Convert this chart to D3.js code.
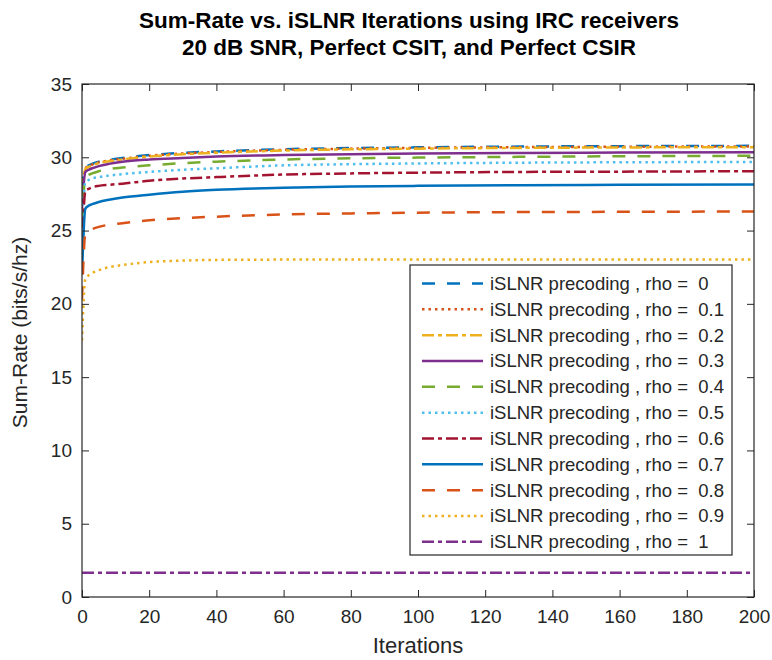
<!DOCTYPE html>
<html>
<head>
<meta charset="utf-8">
<script src="https://cdn.jsdelivr.net/npm/d3@7"></script>
<style>
  html, body { margin: 0; padding: 0; background: #fff; }
  svg { display: block; }
  text { font-family: "Liberation Sans", Arial, Helvetica, sans-serif; }
</style>
</head>
<body>
<svg id="chart" width="772" height="660"></svg>
<script>
// ---------------- DATA ----------------
const iterations = [0, 1, 2, 3, 5, 8, 12, 20, 30, 40, 60, 80, 100, 130, 160, 200];
const rhoLabels = ["0", "0.1", "0.2", "0.3", "0.4", "0.5", "0.6", "0.7", "0.8", "0.9", "1"];
const rho00 = [27.8, 29.30, 29.45, 29.55, 29.70, 29.82, 29.95, 30.15, 30.30, 30.40, 30.55, 30.63, 30.68, 30.73, 30.76, 30.78];
const rho01 = [27.5, 29.25, 29.40, 29.50, 29.65, 29.78, 29.90, 30.10, 30.26, 30.36, 30.51, 30.59, 30.64, 30.69, 30.72, 30.74];
const rho02 = [27.2, 29.20, 29.35, 29.45, 29.60, 29.73, 29.85, 30.05, 30.21, 30.31, 30.46, 30.54, 30.59, 30.64, 30.67, 30.69];
const rho03 = [26.5, 29.00, 29.15, 29.25, 29.40, 29.55, 29.70, 29.85, 29.95, 30.05, 30.15, 30.20, 30.25, 30.30, 30.32, 30.35];
const rho04 = [25.5, 28.60, 28.80, 28.90, 29.05, 29.20, 29.30, 29.45, 29.60, 29.70, 29.85, 29.93, 29.98, 30.03, 30.07, 30.10];
const rho05 = [24.5, 28.30, 28.45, 28.55, 28.65, 28.75, 28.85, 29.00, 29.15, 29.25, 29.45, 29.53, 29.58, 29.63, 29.66, 29.68];
const rho06 = [23.5, 27.70, 27.85, 27.95, 28.05, 28.12, 28.20, 28.40, 28.55, 28.65, 28.82, 28.90, 28.95, 29.00, 29.02, 29.05];
const rho07 = [22.0, 26.50, 26.70, 26.80, 26.95, 27.10, 27.25, 27.45, 27.65, 27.78, 27.92, 28.00, 28.05, 28.10, 28.12, 28.15];
const rho08 = [20.3, 24.80, 25.00, 25.10, 25.25, 25.40, 25.50, 25.70, 25.85, 25.95, 26.10, 26.17, 26.22, 26.26, 26.28, 26.30];
const rho09 = [17.5, 21.70, 21.95, 22.10, 22.30, 22.50, 22.65, 22.85, 22.95, 23.00, 23.02, 23.03, 23.03, 23.03, 23.03, 23.03];
const rho10 = [1.65, 1.65, 1.65, 1.65, 1.65, 1.65, 1.65, 1.65, 1.65, 1.65, 1.65, 1.65, 1.65, 1.65, 1.65, 1.65];
const seriesValues = [rho00, rho01, rho02, rho03, rho04, rho05, rho06, rho07, rho08, rho09, rho10];
const xTicks = [0, 20, 40, 60, 80, 100, 120, 140, 160, 180, 200];
const yTicks = [0, 5, 10, 15, 20, 25, 30, 35];
const titleLines = ["Sum-Rate vs. iSLNR Iterations using IRC receivers", "20 dB SNR, Perfect CSIT, and Perfect CSIR"];
const xLabel = "Iterations";
const yLabel = "Sum-Rate (bits/s/hz)";

// ---------------- STYLE ----------------
const colors = ["#0072BD", "#D95319", "#EDB120", "#7E2F8E", "#77AC30", "#4DBEEE", "#A2142F", "#0072BD", "#D95319", "#EDB120", "#7E2F8E"];
const DASH = "13,12", DOT = "2.5,4", DASHDOT = "12,4,4,4", SOLID = null;
const dashes = [DASH, DOT, DASHDOT, SOLID, DASH, DOT, DASHDOT, SOLID, DASH, DOT, DASHDOT];

// ---------------- LAYOUT ----------------
const svg = d3.select("#chart");
const L = 82, R = 754, T = 84, B = 597;
const x = d3.scaleLinear().domain([0, 200]).range([L, R]);
const y = d3.scaleLinear().domain([0, 35]).range([B, T]);
const axisColor = "#262626";
const lw = 2.5;

// clip
svg.append("defs").append("clipPath").attr("id", "clip")
  .append("rect").attr("x", L).attr("y", T).attr("width", R - L).attr("height", B - T);

// lines
const line = d3.line().x((d, i) => x(iterations[i])).y(d => y(d)).curve(d3.curveMonotoneX);
const gLines = svg.append("g").attr("clip-path", "url(#clip)");
seriesValues.forEach((vals, k) => {
  gLines.append("path")
    .attr("d", line(vals))
    .attr("fill", "none")
    .attr("stroke", colors[k])
    .attr("stroke-width", lw)
    .attr("stroke-dasharray", dashes[k])
    .attr("stroke-linejoin", "round");
});

// axes
const tickLen = 7;
const fontTick = 19;
const xAxisB = d3.axisBottom(x).tickValues(xTicks).tickSizeInner(-tickLen).tickSizeOuter(0).tickPadding(13);
const yAxisL = d3.axisLeft(y).tickValues(yTicks).tickSizeInner(-tickLen).tickSizeOuter(0).tickPadding(10);
const xAxisT = d3.axisTop(x).tickValues(xTicks).tickSizeInner(-tickLen).tickSizeOuter(0).tickFormat("");
const yAxisR = d3.axisRight(y).tickValues(yTicks).tickSizeInner(-tickLen).tickSizeOuter(0).tickFormat("");

function styleAxis(g) {
  g.select(".domain").remove();
  g.selectAll(".tick line").attr("stroke", axisColor).attr("stroke-width", 1);
  g.selectAll(".tick text").attr("fill", axisColor).style("font-size", fontTick + "px")
    .style("font-family", "'Liberation Sans', Arial, sans-serif");
}
svg.append("g").attr("transform", `translate(0,${B})`).call(xAxisB).call(styleAxis);
svg.append("g").attr("transform", `translate(${L},0)`).call(yAxisL).call(styleAxis);
svg.append("g").attr("transform", `translate(0,${T})`).call(xAxisT).call(styleAxis);
svg.append("g").attr("transform", `translate(${R},0)`).call(yAxisR).call(styleAxis);

// box
svg.append("rect").attr("x", L).attr("y", T).attr("width", R - L).attr("height", B - T)
  .attr("fill", "none").attr("stroke", axisColor).attr("stroke-width", 1.2);

// title
svg.append("g").selectAll("text").data(titleLines).join("text")
  .attr("x", 409).attr("y", (d, i) => 28 + i * 27)
  .attr("text-anchor", "middle")
  .attr("font-weight", "bold")
  .attr("font-size", 22.5)
  .attr("fill", "#000")
  .text(d => d);

// axis labels
svg.append("text").attr("x", (L + R) / 2).attr("y", 653).attr("text-anchor", "middle")
  .attr("font-size", 22).attr("fill", axisColor).text(xLabel);
svg.append("text").attr("transform", `translate(27,${(T + B) / 2 - 8}) rotate(-90)`)
  .attr("text-anchor", "middle").attr("font-size", 21).attr("fill", axisColor).text(yLabel);

// legend
const lgX = 410, lgY = 265, lgW = 322, lgH = 290;
const lg = svg.append("g");
lg.append("rect").attr("x", lgX).attr("y", lgY).attr("width", lgW).attr("height", lgH)
  .attr("fill", "#fff").attr("stroke", axisColor).attr("stroke-width", 1.2);
const rowH = 25.83, row0 = 283.5;
rhoLabels.forEach((r, k) => {
  const yy = row0 + k * rowH;
  lg.append("line").attr("x1", 422).attr("x2", 483).attr("y1", yy).attr("y2", yy)
    .attr("stroke", colors[k]).attr("stroke-width", lw).attr("stroke-dasharray", dashes[k]);
  lg.append("text").attr("x", 490).attr("y", yy + 6.5).attr("font-size", 18.5)
    .attr("fill", axisColor).style("white-space", "pre")
    .text("iSLNR precoding , rho =  " + r);
});
</script>
</body>
</html>
